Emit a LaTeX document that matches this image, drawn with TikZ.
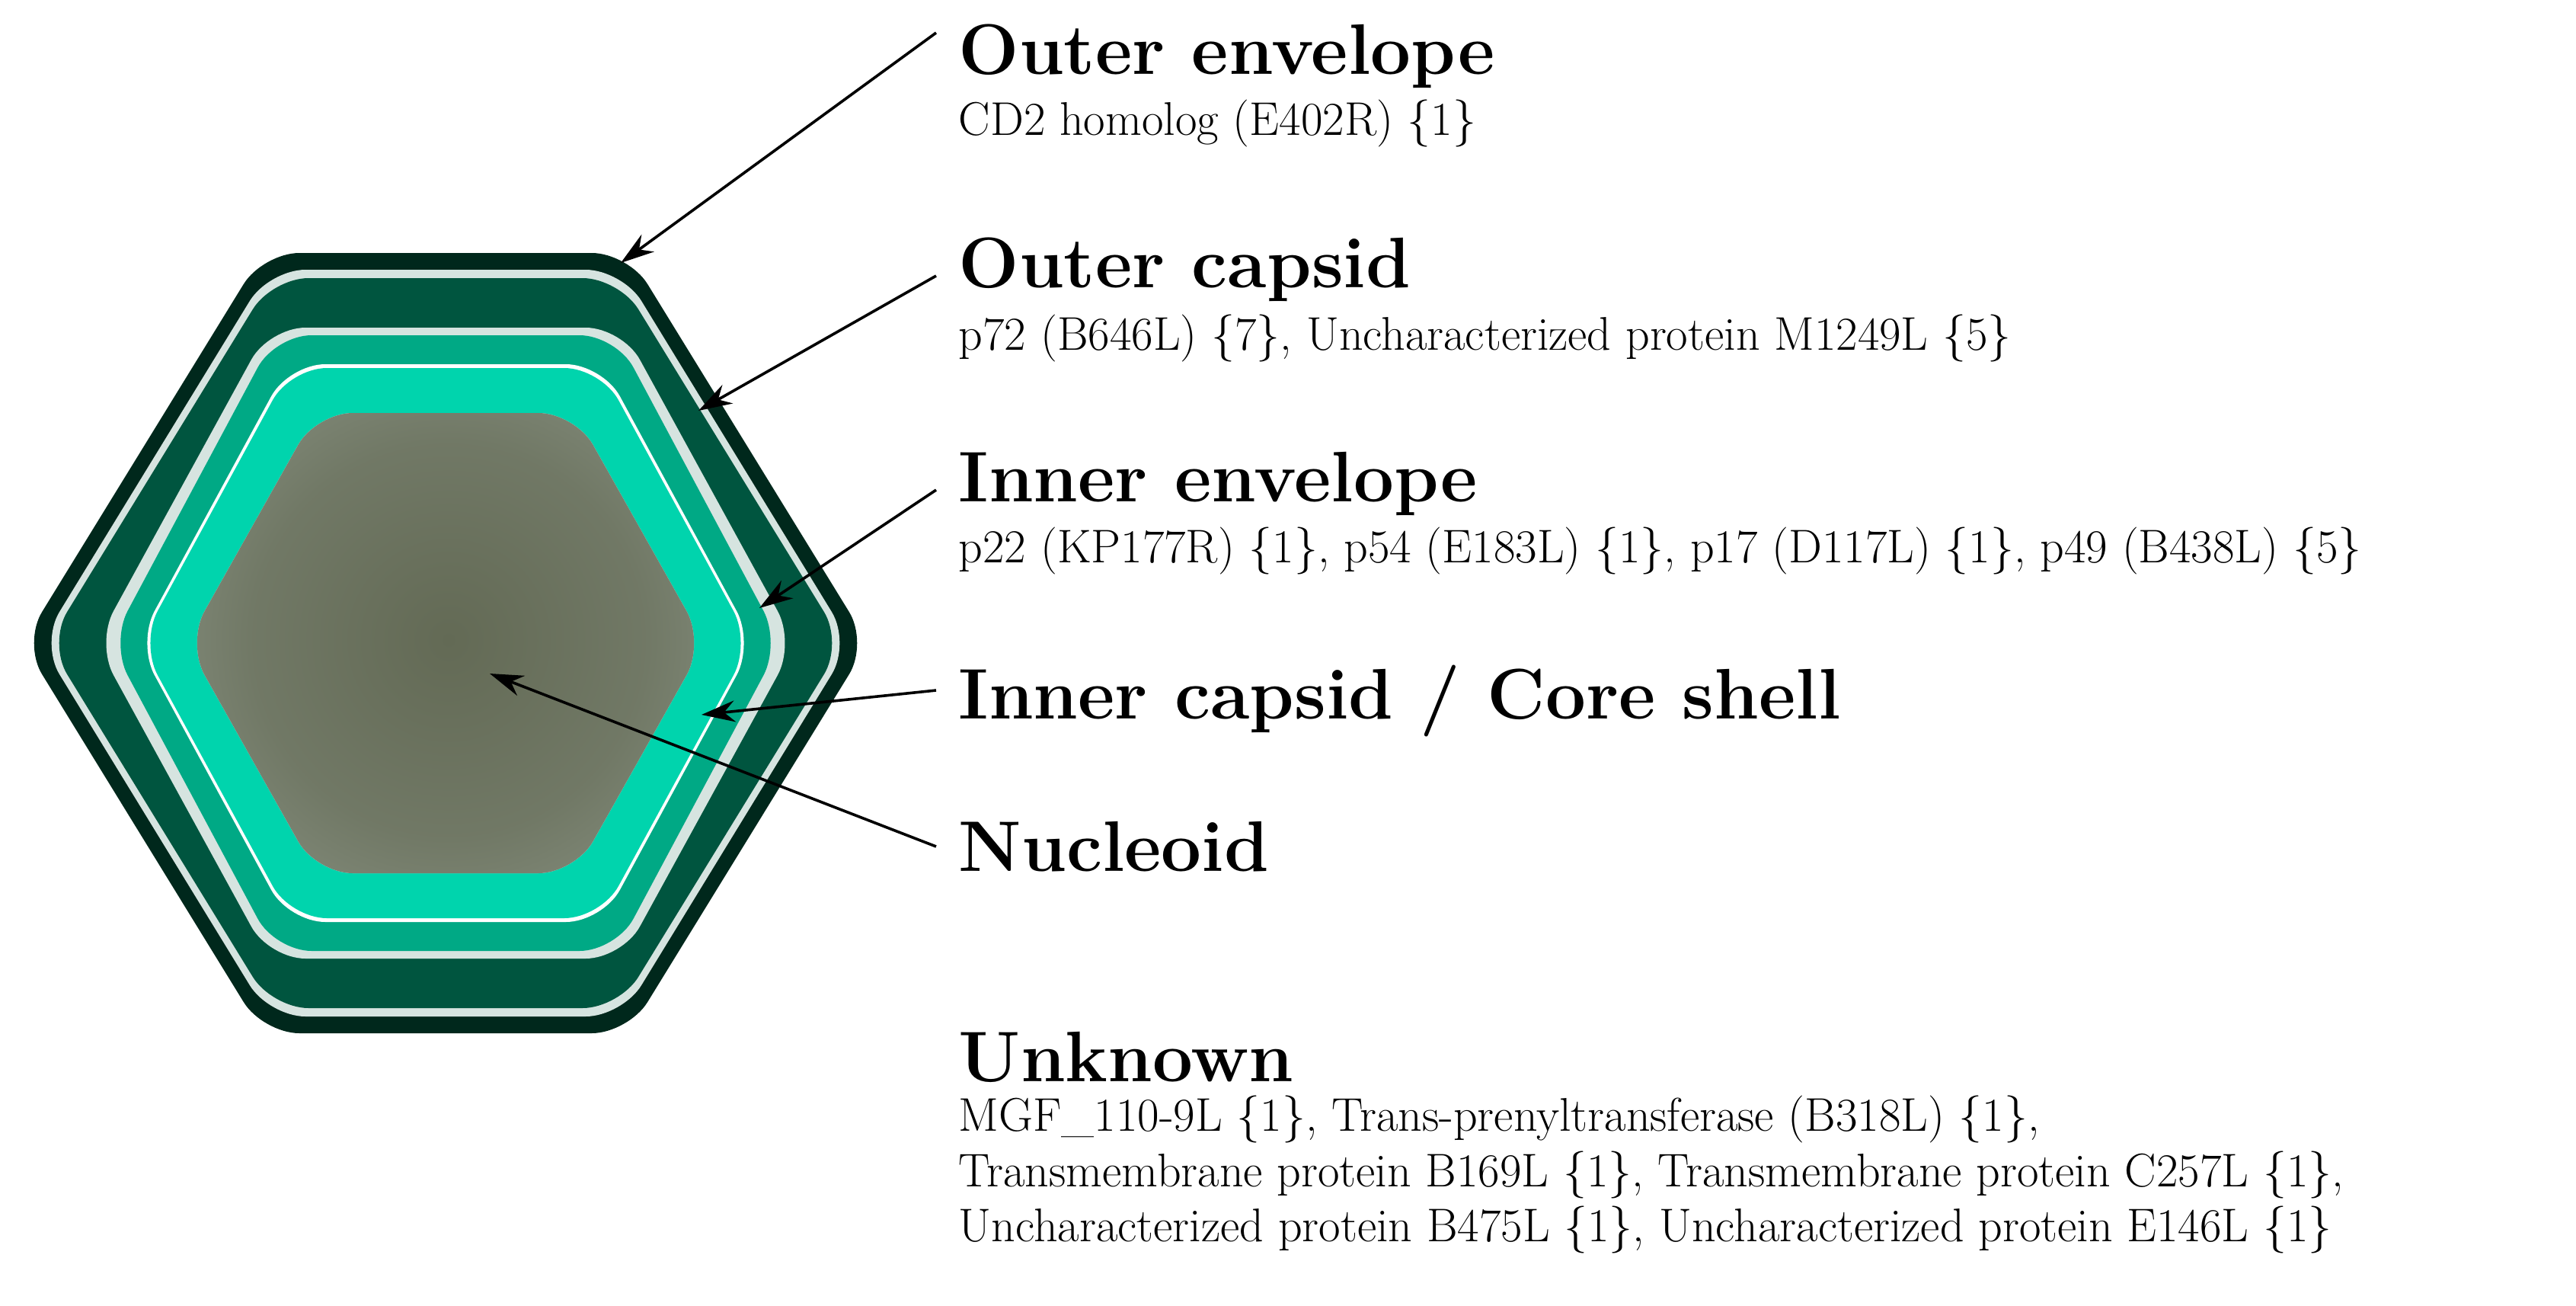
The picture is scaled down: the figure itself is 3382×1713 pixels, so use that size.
\documentclass[tikz,border=0pt]{standalone}
\usetikzlibrary{arrows.meta}
\definecolor{envdark}{HTML}{00281C}
\definecolor{gap}{HTML}{D6E4E0}
\definecolor{capdark}{HTML}{00553F}
\definecolor{midg}{HTML}{00A985}
\definecolor{brightg}{HTML}{00D4AD}
\definecolor{core}{HTML}{D6E3DF}
\definecolor{nuc}{HTML}{636A55}
\pgfdeclareradialshading{nucshade}{\pgfpoint{0bp}{0bp}}{color(0bp)=(nuc); color(12bp)=(nuc!88!core); color(50bp)=(core); color(100bp)=(core)}
\newcommand{\hexpath}[3]{(585-#1,844) -- (585-#3,844-#2) -- (585+#3,844-#2) -- (585+#1,844) -- (585+#3,844+#2) -- (585-#3,844+#2) -- cycle}
\newcommand{\hexa}[4]{\fill[#4, rounded corners=12pt] \hexpath{#1}{#2}{#3};}
\tikzset{
  title/.style={anchor=base west, inner sep=0pt, font=\fontsize{23.5}{26}\selectfont\bfseries},
  sub/.style={anchor=base west, inner sep=0pt, font=\fontsize{15.5}{18}\selectfont},
  ptr/.style={-{Stealth[length=11pt,width=7pt]}, line width=0.9pt, black}
}
\begin{document}
\begin{tikzpicture}[x=0.25pt,y=-0.25pt]
\useasboundingbox (0,0) rectangle (3382,1713);
\hexa{555}{512}{240}{envdark}
\hexa{532}{490}{232}{gap}
\hexa{522}{479}{228}{capdark}
\hexa{459}{414}{232}{gap}
\hexa{440}{404}{224}{midg}
\hexa{405}{366}{206}{white}
\hexa{401}{361}{204}{brightg}
\hexa{340}{302}{170}{core}
\begin{scope}
\clip[rounded corners=12pt] \hexpath{340}{302}{170};
\shade[shading=nucshade] (589,840) circle (540);
\end{scope}

\node[title] (oe) at (1258,97) {Outer envelope};
\node[sub] at (1258,177) {CD2 homolog (E402R) \{1\}};
\node[title] (oc) at (1258,377) {Outer capsid};
\node[sub] at (1258,459) {p72 (B646L) \{7\}, Uncharacterized protein M1249L \{5\}};
\node[title] (ie) at (1258,658) {Inner envelope};
\node[sub] at (1258,738) {p22 (KP177R) \{1\}, p54 (E183L) \{1\}, p17 (D117L) \{1\}, p49 (B438L) \{5\}};
\node[title] (ic) at (1258,943) {Inner capsid / Core shell};
\node[title] (nu) at (1258,1143) {Nucleoid};
\node[title] (un) at (1258,1419) {Unknown};
\node[sub] at (1258,1484) {MGF\_110-9L \{1\}, Trans-prenyltransferase (B318L) \{1\},};
\node[sub] at (1258,1557) {Transmembrane protein B169L \{1\}, Transmembrane protein C257L \{1\},};
\node[sub] at (1258,1629) {Uncharacterized protein B475L \{1\}, Uncharacterized protein E146L \{1\}};

\coordinate (s1) at (1229,43);  \coordinate (t1) at (815,345);
\coordinate (s2) at (1229,362); \coordinate (t2) at (917,539);
\coordinate (s3) at (1229,643); \coordinate (t3) at (997,798);
\coordinate (s4) at (1229,906); \coordinate (t4) at (921,938);
\coordinate (s5) at (1229,1111); \coordinate (t5) at (643,884);
\draw[ptr] (s1) -- (t1);
\draw[ptr] (s2) -- (t2);
\draw[ptr] (s3) -- (t3);
\draw[ptr] (s4) -- (t4);
\draw[ptr] (s5) -- (t5);
\end{tikzpicture}
\end{document}
